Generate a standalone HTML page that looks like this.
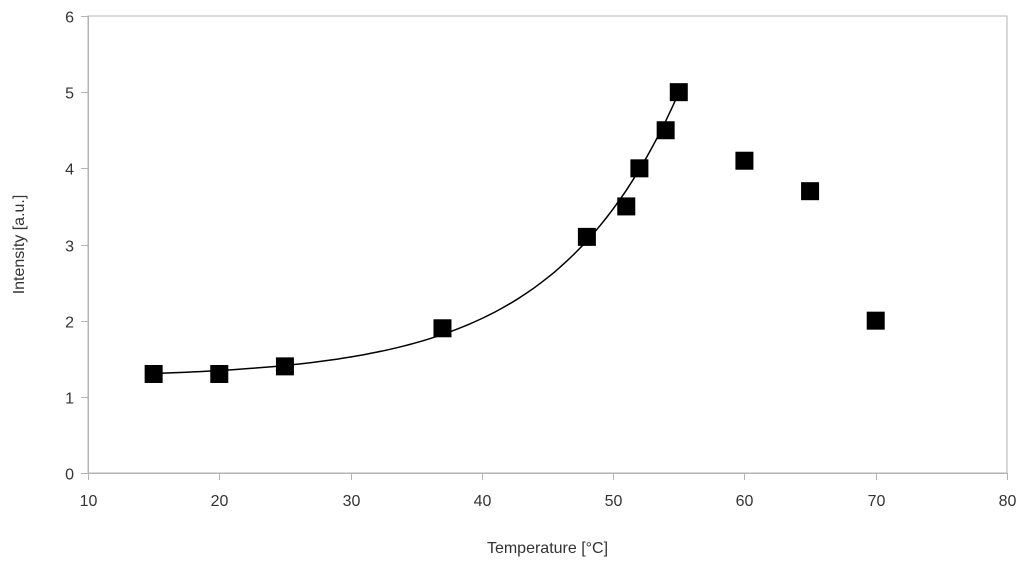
<!DOCTYPE html>
<html><head><meta charset="utf-8"><style>
body{margin:0;background:#fff;}
svg{display:block;font-family:"Liberation Sans",sans-serif;}
</style></head><body>
<svg id="chart" width="1024" height="563" viewBox="0 0 1024 563" xmlns="http://www.w3.org/2000/svg"></svg>
<script>
const xTicks=[10,20,30,40,50,60,70,80];
const yTicks=[0,1,2,3,4,5,6];
const temps=[15,20,25,37,48,51,52,54,55,60,65,70];
const intensities=[1.3,1.3,1.4,1.9,3.1,3.5,4.0,4.5,5.0,4.1,3.7,2.0];
const fitParams=[1.25,0.0568,0.1047,15];
const fitRange=[15,55];

const svg=document.getElementById('chart');
const NS='http://www.w3.org/2000/svg';
const L=88,R=1007,T=16,B=473;
const sx=v=>L+(v-10)/(80-10)*(R-L);
const sy=v=>B-(v-0)/(6-0)*(B-T);
function mk(tag,attrs,parent){const e=document.createElementNS(NS,tag);for(const k in attrs)e.setAttribute(k,attrs[k]);(parent||svg).appendChild(e);return e;}

const frame=mk('rect',{x:L,y:T,width:R-L,height:B-T,fill:'none',stroke:'#b3b3b3','stroke-width':1});



const xg=mk('g',{});


mk('line',{x1:L,y1:B+0.5,x2:R,y2:B+0.5,stroke:'#b3b3b3'},xg);
xTicks.forEach(t=>{
  const x=Math.round(sx(t))+0.5;
  mk('line',{x1:x,y1:B,x2:x,y2:B+7,stroke:'#b3b3b3'},xg);
  const tx=mk('text',{x:x,y:B+33,'text-anchor':'middle','font-size':16,fill:'#333'},xg);
  tx.textContent=t;
  
  
});
const yg=mk('g',{});


mk('line',{x1:L+0.5,y1:T,x2:L+0.5,y2:B,stroke:'#b3b3b3'},yg);
yTicks.forEach(t=>{
  const y=Math.round(sy(t))+0.5;
  mk('line',{x1:L-7,y1:y,x2:L,y2:y,stroke:'#b3b3b3'},yg);
  const tx=mk('text',{x:L-14,y:y+6,'text-anchor':'end','font-size':16,fill:'#333'},yg);
  tx.textContent=t;
  
  
});
const xt=mk('text',{x:(L+R)/2,y:553,'text-anchor':'middle','font-size':16,fill:'#333'});
xt.textContent='Temperature [°C]';


const yt=mk('text',{x:0,y:0,'text-anchor':'middle','font-size':16,fill:'#333',transform:'translate(24,'+((T+B)/2)+') rotate(-90)'});
yt.textContent='Intensity [a.u.]';



// trendline
let d='';
for(let i=0;i<=80;i++){const x=fitRange[0]+(fitRange[1]-fitRange[0])*i/80;const y=fitParams[0]+fitParams[1]*Math.exp(fitParams[2]*(x-fitParams[3]));d+=(i?'L':'M')+sx(x).toFixed(1)+','+sy(y).toFixed(1);}
const fit=mk('path',{d:d,fill:'none',stroke:'#000','stroke-width':1.5});



temps.forEach((t,i)=>{
  const r=mk('rect',{x:sx(t)-9,y:sy(intensities[i])-9,width:18,height:18,fill:'#000'});
  
  
});
</script>
</body></html>
